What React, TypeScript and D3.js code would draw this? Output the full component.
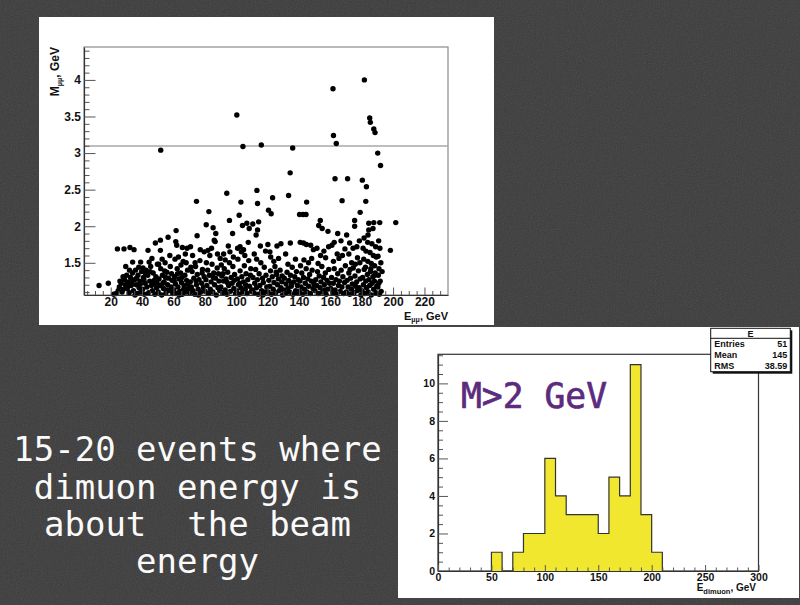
import React, { useEffect, useRef } from 'react';
import * as d3 from 'd3';

// dimuon events: [E_mumu (GeV), M_mumu (GeV)]
const events: [number, number][] = [
  [12.6, 1.19], [18.5, 1.22],
  [24.3, 1.69], [28.5, 1.69], [29.6, 1.45], [23.5, 1.08], [24.8, 1.12], [25.5, 1.17], [26.7, 1.22], [27.3, 1.1],
  [28.0, 1.14], [28.8, 1.27], [29.4, 1.2], [25.9, 1.25], [21.9, 1.07], [27.9, 1.31],
  [32.3, 1.71], [34.9, 1.68], [34.0, 1.51], [39.1, 1.51], [30.6, 1.15], [31.2, 1.24], [31.8, 1.09], [32.6, 1.3],
  [33.1, 1.19], [33.9, 1.36], [34.5, 1.12], [35.2, 1.27], [35.8, 1.4], [36.3, 1.2], [36.9, 1.08], [37.4, 1.33],
  [38.1, 1.16], [38.6, 1.25], [39.2, 1.1], [39.7, 1.38], [30.2, 1.33], [32.0, 1.4], [35.5, 1.06], [37.9, 1.44],
  [33.5, 1.23], [36.5, 1.29], [31.0, 1.18], [38.9, 1.21],
  [43.8, 1.67], [48.5, 1.77], [44.5, 1.51], [40.4, 1.14], [40.9, 1.3], [41.5, 1.07], [42.0, 1.22], [42.6, 1.4],
  [43.1, 1.17], [43.6, 1.33], [44.2, 1.09], [44.9, 1.25], [45.5, 1.45], [46.0, 1.19], [46.6, 1.12], [47.1, 1.36],
  [47.7, 1.26], [48.2, 1.07], [48.8, 1.31], [49.3, 1.16], [49.8, 1.48], [45.2, 1.38], [41.2, 1.27], [47.4, 1.21],
  [42.3, 1.35], [46.3, 1.56], [49.5, 1.23], [40.6, 1.43],
  [51.7, 1.67], [51.7, 1.81], [56.6, 1.85], [51.9, 3.04], [50.3, 1.1], [50.8, 1.28], [51.4, 1.19], [51.9, 1.42],
  [52.5, 1.06], [53.0, 1.33], [53.6, 1.15], [54.1, 1.24], [54.7, 1.5], [55.2, 1.09], [55.8, 1.37], [56.3, 1.2],
  [56.9, 1.29], [57.4, 1.12], [58.0, 1.45], [58.5, 1.17], [59.1, 1.26], [59.6, 1.08], [52.8, 1.55], [54.4, 1.39],
  [57.7, 1.6], [55.0, 1.3], [58.8, 1.35], [50.6, 1.48], [53.3, 1.22], [56.0, 1.13],
  [61.7, 1.94], [61.5, 1.79], [62.1, 1.74], [65.7, 1.71], [68.7, 1.7], [60.2, 1.13], [60.7, 1.31], [61.3, 1.21],
  [61.8, 1.08], [62.4, 1.42], [62.9, 1.17], [63.5, 1.28], [64.0, 1.11], [64.6, 1.36], [65.1, 1.23], [65.7, 1.07],
  [66.2, 1.52], [66.8, 1.19], [67.3, 1.33], [67.9, 1.1], [68.4, 1.26], [69.0, 1.4], [69.5, 1.15], [63.2, 1.58],
  [64.8, 1.47], [67.6, 1.62], [60.5, 1.25], [62.6, 1.35], [65.4, 1.3], [68.1, 1.5], [69.3, 1.21], [63.8, 1.06],
  [66.5, 1.14], [61.0, 1.55],
  [70.9, 1.72], [74.7, 2.34], [75.1, 1.87], [79.6, 1.65], [70.3, 1.09], [70.8, 1.24], [71.4, 1.17], [71.9, 1.38],
  [72.5, 1.12], [73.0, 1.29], [73.6, 1.07], [74.1, 1.45], [74.7, 1.2], [75.2, 1.34], [75.8, 1.14], [76.3, 1.27],
  [76.9, 1.53], [77.4, 1.1], [78.0, 1.22], [78.5, 1.41], [79.1, 1.16], [79.6, 1.31], [72.2, 1.6], [73.8, 1.5],
  [77.1, 1.68], [71.1, 1.44], [76.0, 1.06], [78.3, 1.36], [74.4, 1.25],
  [82.0, 1.67], [82.6, 2.2], [80.9, 2.02], [85.3, 1.98], [87.0, 1.9], [86.6, 1.79], [86.0, 1.81], [89.8, 1.56],
  [80.2, 1.11], [80.7, 1.27], [81.3, 1.19], [81.8, 1.4], [82.4, 1.08], [82.9, 1.33], [83.5, 1.14], [84.0, 1.24],
  [84.6, 1.48], [85.1, 1.1], [85.7, 1.36], [86.2, 1.2], [86.8, 1.29], [87.3, 1.06], [87.9, 1.43], [88.4, 1.16],
  [89.0, 1.25], [89.5, 1.12], [83.2, 1.6], [84.3, 1.7], [88.1, 1.62], [81.0, 1.5], [85.4, 1.3], [88.7, 1.35],
  [94.0, 2.45], [95.7, 2.08], [97.7, 1.9], [95.0, 1.73], [93.0, 1.54], [90.2, 1.17], [90.8, 1.32], [91.3, 1.09],
  [91.9, 1.25], [92.4, 1.42], [93.0, 1.13], [93.5, 1.28], [94.1, 1.07], [94.6, 1.37], [95.2, 1.19], [95.7, 1.5],
  [96.3, 1.11], [96.8, 1.3], [97.4, 1.22], [97.9, 1.45], [98.5, 1.15], [99.0, 1.34], [99.6, 1.08], [92.0, 1.62],
  [96.0, 1.65], [98.2, 1.58], [90.5, 1.47], [94.3, 1.23], [98.8, 1.26], [91.6, 1.35],
  [100.4, 3.52], [104.3, 3.09], [101.9, 2.15], [103.0, 2.33], [104.0, 2.01], [106.8, 2.04], [108.3, 1.97],
  [100.9, 1.7], [102.5, 1.72], [104.7, 1.68], [103.3, 1.65], [100.3, 1.12], [100.8, 1.28], [101.4, 1.2],
  [101.9, 1.07], [102.5, 1.39], [103.0, 1.16], [103.6, 1.31], [104.1, 1.1], [104.7, 1.24], [105.2, 1.46],
  [105.8, 1.14], [106.3, 1.35], [106.9, 1.08], [107.4, 1.27], [108.0, 1.53], [108.5, 1.18], [109.1, 1.33],
  [109.6, 1.11], [101.1, 1.55], [105.5, 1.6], [107.7, 1.78], [109.3, 1.42], [102.2, 1.22], [106.0, 1.2],
  [116.0, 3.11], [113.2, 2.49], [113.6, 2.31], [110.6, 2.03], [114.3, 2.06], [113.6, 1.95], [112.7, 1.88],
  [110.2, 1.13], [110.7, 1.3], [111.3, 1.09], [111.8, 1.22], [112.4, 1.41], [112.9, 1.16], [113.5, 1.27],
  [114.0, 1.07], [114.6, 1.35], [115.1, 1.19], [115.7, 1.5], [116.2, 1.12], [116.8, 1.29], [117.3, 1.23],
  [117.9, 1.44], [118.4, 1.1], [119.0, 1.33], [119.5, 1.17], [111.5, 1.62], [115.4, 1.73], [118.7, 1.66],
  [117.0, 1.06], [113.0, 1.55],
  [123.2, 2.39], [120.6, 2.22], [122.3, 2.17], [120.2, 1.75], [121.5, 1.65], [126.0, 1.73], [128.5, 1.76],
  [124.0, 1.52], [120.3, 1.1], [120.8, 1.26], [121.4, 1.18], [121.9, 1.39], [122.5, 1.07], [123.0, 1.31],
  [123.6, 1.14], [124.1, 1.23], [124.7, 1.45], [125.2, 1.09], [125.8, 1.34], [126.3, 1.2], [126.9, 1.28],
  [127.4, 1.12], [128.0, 1.4], [128.5, 1.16], [129.1, 1.24], [129.6, 1.06], [122.0, 1.58], [127.0, 1.56],
  [125.5, 1.37], [129.3, 1.32],
  [134.4, 2.73], [136.0, 3.07], [133.4, 2.42], [134.5, 1.77], [131.5, 1.62], [137.8, 1.55], [130.2, 1.13],
  [130.7, 1.29], [131.3, 1.08], [131.8, 1.21], [132.4, 1.37], [132.9, 1.15], [133.5, 1.26], [134.0, 1.1],
  [134.6, 1.33], [135.1, 1.18], [135.7, 1.44], [136.2, 1.07], [136.8, 1.24], [137.3, 1.31], [137.9, 1.12],
  [138.4, 1.38], [139.0, 1.19], [139.5, 1.27], [133.0, 1.48], [138.7, 1.09], [135.4, 1.22],
  [144.9, 2.33], [140.4, 2.16], [142.6, 2.16], [144.5, 2.16], [140.8, 1.78], [142.9, 1.77], [144.7, 1.75],
  [147.5, 1.74], [149.2, 1.68], [146.1, 1.5], [143.2, 1.54], [140.2, 1.11], [140.7, 1.25], [141.3, 1.17],
  [141.8, 1.36], [142.4, 1.07], [142.9, 1.3], [143.5, 1.14], [144.0, 1.22], [144.6, 1.42], [145.1, 1.1],
  [145.7, 1.28], [146.2, 1.18], [146.8, 1.34], [147.3, 1.08], [147.9, 1.25], [148.4, 1.4], [149.0, 1.15],
  [149.5, 1.21], [141.0, 1.46], [148.1, 1.56],
  [153.6, 2.08], [152.6, 2.01], [154.8, 1.97], [158.5, 1.93], [151.5, 1.7], [155.9, 1.66], [158.9, 1.72],
  [152.2, 1.49], [150.2, 1.12], [150.7, 1.27], [151.3, 1.19], [151.8, 1.38], [152.4, 1.08], [152.9, 1.32],
  [153.5, 1.16], [154.0, 1.24], [154.6, 1.45], [155.1, 1.1], [155.7, 1.3], [156.2, 1.2], [156.8, 1.36],
  [157.3, 1.07], [157.9, 1.26], [158.4, 1.14], [159.0, 1.41], [159.5, 1.22], [157.0, 1.57], [153.8, 1.6],
  [156.5, 1.13],
  [161.7, 3.88], [162.0, 3.24], [163.8, 3.13], [163.0, 2.65], [167.5, 2.35], [164.7, 1.9], [161.0, 1.74],
  [162.5, 1.78], [166.8, 1.8], [169.3, 1.69], [165.5, 1.56], [160.3, 1.15], [160.8, 1.3], [161.4, 1.09],
  [161.9, 1.22], [162.5, 1.42], [163.0, 1.13], [163.6, 1.27], [164.1, 1.07], [164.7, 1.35], [165.2, 1.19],
  [165.8, 1.25], [166.3, 1.11], [166.9, 1.4], [167.4, 1.17], [168.0, 1.31], [168.5, 1.08], [169.1, 1.23],
  [169.6, 1.46], [162.0, 1.52], [167.7, 1.6], [164.4, 1.62],
  [171.0, 2.65], [175.5, 2.08], [175.5, 2.0], [179.0, 2.19], [170.4, 1.88], [172.3, 1.77], [174.5, 1.7],
  [176.9, 1.72], [178.5, 1.8], [171.8, 1.62], [177.3, 1.57], [173.6, 1.5], [170.2, 1.1], [170.7, 1.26],
  [171.3, 1.17], [171.8, 1.36], [172.4, 1.07], [172.9, 1.29], [173.5, 1.14], [174.0, 1.21], [174.6, 1.43],
  [175.1, 1.09], [175.7, 1.32], [176.2, 1.18], [176.8, 1.24], [177.3, 1.12], [177.9, 1.39], [178.4, 1.16],
  [179.0, 1.28], [179.5, 1.06], [175.9, 1.48], [172.6, 1.41], [178.8, 1.5],
  [181.7, 4.0], [185.1, 3.48], [185.5, 3.42], [187.7, 3.33], [188.5, 3.28], [180.4, 2.63], [183.0, 2.54],
  [182.6, 2.34], [184.5, 2.04], [187.7, 2.05], [187.2, 1.97], [184.5, 1.95], [184.0, 1.88], [181.5, 1.84],
  [183.8, 1.78], [186.5, 1.76], [188.9, 1.72], [180.9, 1.7], [182.7, 1.66], [185.3, 1.64], [187.4, 1.6],
  [189.3, 1.58], [181.3, 1.55], [183.9, 1.52], [186.1, 1.49], [188.2, 1.46], [180.2, 1.12], [180.6, 1.3],
  [181.1, 1.2], [181.6, 1.41], [182.1, 1.08], [182.6, 1.25], [183.1, 1.16], [183.6, 1.34], [184.1, 1.1],
  [184.6, 1.27], [185.1, 1.19], [185.6, 1.38], [186.1, 1.06], [186.6, 1.22], [187.1, 1.31], [187.6, 1.14],
  [188.1, 1.25], [188.6, 1.36], [189.1, 1.09], [189.6, 1.18], [182.4, 1.44], [185.8, 1.42], [188.4, 1.33],
  [190.2, 3.0], [192.0, 2.83], [191.5, 2.05], [198.3, 1.67], [190.8, 1.8], [191.6, 1.7], [190.4, 1.59],
  [192.2, 1.5], [191.0, 1.42], [190.6, 1.33], [191.8, 1.25], [190.3, 1.17], [192.4, 1.11], [191.2, 1.07],
  [193.0, 1.38], [190.9, 1.22],
  [201.7, 2.05],
];

const jpsiMass = 3.097;
const scatterXTicks = [20, 40, 60, 80, 100, 120, 140, 160, 180, 200, 220];
const scatterYTicks = [1.5, 2, 2.5, 3, 3.5, 4];

// E_dimuon histogram for M > 2 GeV, 10 GeV bins
const binLow = [50, 60, 70, 80, 90, 100, 110, 120, 130, 140, 150, 160, 170, 180, 190, 200];
const binCounts = [1, 0, 1, 2, 2, 6, 4, 3, 3, 3, 2, 5, 4, 11, 3, 1];
const histXTicks = [0, 50, 100, 150, 200, 250, 300];
const histYTicks = [0, 2, 4, 6, 8, 10];
const statsRows = [['Entries', '51'], ['Mean', '145'], ['RMS', '38.59']];

const caption = ['15-20 events where', 'dimuon energy is', 'about  the beam', 'energy'];

const W = 800;
const H = 605;
const ROOT_FONT = '"Liberation Sans", Arial, Helvetica, sans-serif';
const MONO = '"DejaVu Sans Mono", monospace';

export default function App() {
  const ref = useRef<SVGSVGElement>(null);

  useEffect(() => {
    const svg = d3.select(ref.current);
    svg.selectAll('*').remove();

    // slide background with a bit of grain
    const defs = svg.append('defs');
    const f = defs.append('filter').attr('id', 'grain').attr('x', 0).attr('y', 0).attr('width', '100%').attr('height', '100%');
    f.append('feTurbulence').attr('type', 'fractalNoise').attr('baseFrequency', 0.85).attr('numOctaves', 2).attr('seed', 3);
    f.append('feColorMatrix').attr('type', 'saturate').attr('values', 0);
    svg.append('rect').attr('width', W).attr('height', H).attr('fill', '#3b3b3b');
    svg.append('rect').attr('width', W).attr('height', H).attr('filter', 'url(#grain)').attr('opacity', 0.14);

    // ---------- scatter panel ----------
    svg.append('rect').attr('x', 39).attr('y', 17).attr('width', 455).attr('height', 308).attr('fill', '#fff');

    const sx = d3.scaleLinear().domain([3, 235]).range([84, 448]);
    const sy = d3.scaleLinear().domain([1.06, 4.45]).range([295, 47]);

    svg.append('rect')
      .attr('x', sx(3)).attr('y', sy(4.45))
      .attr('width', sx(235) - sx(3)).attr('height', sy(1.06) - sy(4.45))
      .attr('fill', 'none').attr('stroke', '#8a8a8a').attr('stroke-width', 1.2);

    svg.append('line')
      .attr('x1', sx(3)).attr('x2', sx(235))
      .attr('y1', sy(jpsiMass)).attr('y2', sy(jpsiMass))
      .attr('stroke', '#a8a8a8').attr('stroke-width', 1.6);

    svg.append('g').selectAll('circle').data(events).join('circle')
      .attr('cx', (d) => sx(d[0]))
      .attr('cy', (d) => sy(d[1]))
      .attr('r', 2.7)
      .attr('fill', '#000');

    const styleAxis = (g, size) => {
      g.select('.domain').attr('stroke', '#333').attr('stroke-width', 1.2);
      g.selectAll('.tick line').attr('stroke', '#555');
      g.selectAll('text')
        .attr('font-family', ROOT_FONT)
        .attr('font-weight', 'bold')
        .attr('font-size', size)
        .attr('fill', '#111');
    };

    const syMinor = d3.range(11, 45).map((v) => v / 10).filter((v) => Math.round(v * 10) % 5 !== 0);
    svg.append('g').attr('transform', `translate(${sx(3)},0)`)
      .call(d3.axisLeft(sy).tickValues(syMinor).tickSizeInner(-5.5).tickSizeOuter(0).tickFormat(() => ''))
      .call((g) => { g.select('.domain').remove(); g.selectAll('.tick line').attr('stroke', '#555'); });
    svg.append('g').attr('transform', `translate(${sx(3)},0)`)
      .call(d3.axisLeft(sy).tickValues(scatterYTicks).tickSizeInner(-11.5).tickSizeOuter(0).tickPadding(3).tickFormat((d) => String(d)))
      .call((g) => styleAxis(g, '12px'));

    const sxMinor = d3.range(1, 47).map((v) => v * 5).filter((v) => v % 20 !== 0);
    svg.append('g').attr('transform', `translate(0,${sy(1.06)})`)
      .call(d3.axisBottom(sx).tickValues(sxMinor).tickSizeInner(-4).tickSizeOuter(0).tickFormat(() => ''))
      .call((g) => { g.select('.domain').remove(); g.selectAll('.tick line').attr('stroke', '#555'); });
    svg.append('g').attr('transform', `translate(0,${sy(1.06)})`)
      .call(d3.axisBottom(sx).tickValues(scatterXTicks).tickSizeInner(-7.5).tickSizeOuter(0).tickPadding(2.5))
      .call((g) => styleAxis(g, '12px'));

    // axis titles
    const yTitle = svg.append('text')
      .attr('transform', `translate(58.5,${sy(4.45)}) rotate(-90)`)
      .attr('text-anchor', 'end')
      .attr('font-family', ROOT_FONT).attr('font-weight', 'bold').attr('font-size', '12px').attr('fill', '#111');
    yTitle.append('tspan').text('M');
    yTitle.append('tspan').attr('font-size', '7px').attr('dy', 3).text('μμ');
    yTitle.append('tspan').attr('dy', -3).text(', GeV');

    const xTitle = svg.append('text')
      .attr('x', sx(235)).attr('y', 319.5)
      .attr('text-anchor', 'end')
      .attr('font-family', ROOT_FONT).attr('font-weight', 'bold').attr('font-size', '11px').attr('fill', '#111');
    xTitle.append('tspan').text('E');
    xTitle.append('tspan').attr('font-size', '7px').attr('dy', 2.5).text('μμ');
    xTitle.append('tspan').attr('dy', -2.5).text(', GeV');

    // ---------- histogram panel ----------
    svg.append('rect').attr('x', 398).attr('y', 327).attr('width', 401).attr('height', 271).attr('fill', '#fff');

    const hx = d3.scaleLinear().domain([0, 300]).range([438, 758.5]);
    const hy = d3.scaleLinear().domain([0, 11.55]).range([571, 354.3]);

    svg.append('rect')
      .attr('x', hx(0)).attr('y', hy(11.55))
      .attr('width', hx(300) - hx(0)).attr('height', hy(0) - hy(11.55))
      .attr('fill', 'none').attr('stroke', '#333').attr('stroke-width', 1.2);

    const step: [number, number][] = [[binLow[0], 0]];
    binCounts.forEach((c, i) => {
      step.push([binLow[i], c], [binLow[i] + 10, c]);
    });
    step.push([binLow[binLow.length - 1] + 10, 0]);

    svg.append('path')
      .datum(step)
      .attr('d', d3.area<[number, number]>().x((d) => hx(d[0])).y0(hy(0)).y1((d) => hy(d[1])))
      .attr('fill', '#f1e72f');
    svg.append('path')
      .datum(step)
      .attr('d', d3.line<[number, number]>().x((d) => hx(d[0])).y((d) => hy(d[1])))
      .attr('fill', 'none').attr('stroke', '#333').attr('stroke-width', 1.2);

    const hyMinor = d3.range(1, 24).map((v) => v / 2).filter((v) => v % 2 !== 0);
    svg.append('g').attr('transform', `translate(${hx(0)},0)`)
      .call(d3.axisLeft(hy).tickValues(hyMinor).tickSizeInner(-5).tickSizeOuter(0).tickFormat(() => ''))
      .call((g) => { g.select('.domain').remove(); g.selectAll('.tick line').attr('stroke', '#555'); });
    svg.append('g').attr('transform', `translate(${hx(0)},0)`)
      .call(d3.axisLeft(hy).tickValues(histYTicks).tickSizeInner(-10).tickSizeOuter(0).tickPadding(3))
      .call((g) => styleAxis(g, '10.5px'));

    const hxMinor = d3.range(1, 30).map((v) => v * 10).filter((v) => v % 50 !== 0);
    svg.append('g').attr('transform', `translate(0,${hy(0)})`)
      .call(d3.axisBottom(hx).tickValues(hxMinor).tickSizeInner(-3.5).tickSizeOuter(0).tickFormat(() => ''))
      .call((g) => { g.select('.domain').remove(); g.selectAll('.tick line').attr('stroke', '#555'); });
    svg.append('g').attr('transform', `translate(0,${hy(0)})`)
      .call(d3.axisBottom(hx).tickValues(histXTicks).tickSizeInner(-6).tickSizeOuter(0).tickPadding(3))
      .call((g) => styleAxis(g, '10.5px'));

    const hTitle = svg.append('text')
      .attr('x', 756).attr('y', 591)
      .attr('text-anchor', 'end')
      .attr('font-family', ROOT_FONT).attr('font-weight', 'bold').attr('font-size', '10px').attr('fill', '#111');
    hTitle.append('tspan').text('E');
    hTitle.append('tspan').attr('font-size', '7.5px').attr('dy', 2.5).text('dimuon');
    hTitle.append('tspan').attr('dy', -2.5).text(', GeV');

    // stats box
    const bx = 710.7;
    const by = 328.3;
    const bw = 79.6;
    const bh = 43.4;
    svg.append('rect').attr('x', bx + 2).attr('y', by + 2).attr('width', bw).attr('height', bh).attr('fill', '#111');
    svg.append('rect').attr('x', bx).attr('y', by).attr('width', bw).attr('height', bh)
      .attr('fill', '#fff').attr('stroke', '#111').attr('stroke-width', 1);
    svg.append('line').attr('x1', bx).attr('x2', bx + bw).attr('y1', by + 10).attr('y2', by + 10)
      .attr('stroke', '#111').attr('stroke-width', 1);
    const statsText = (x, y, anchor, t) => svg.append('text')
      .attr('x', x).attr('y', y).attr('text-anchor', anchor)
      .attr('font-family', ROOT_FONT).attr('font-weight', 'bold').attr('font-size', '9px').attr('fill', '#111')
      .text(t);
    statsText(bx + bw / 2, by + 8.3, 'middle', 'E');
    statsRows.forEach(([k, v], i) => {
      const y = by + 18.8 + i * 11;
      statsText(bx + 3.5, y, 'start', k);
      statsText(bx + bw - 3, y, 'end', v);
    });

    // annotation inside the histogram
    svg.append('text')
      .attr('x', 461).attr('y', 408)
      .attr('font-family', MONO).attr('font-size', '36px').attr('fill', '#5c2b7d')
      .attr('stroke', '#5c2b7d').attr('stroke-width', 0.7)
      .attr('textLength', 146).attr('lengthAdjust', 'spacingAndGlyphs')
      .text('M>2 GeV');

    // ---------- caption ----------
    const baselines = [461, 498.5, 535.5, 572.5];
    caption.forEach((line, i) => {
      svg.append('text')
        .attr('x', 197.5).attr('y', baselines[i])
        .attr('text-anchor', 'middle')
        .attr('font-family', MONO).attr('font-size', '34px').attr('fill', '#fafafa')
        .style('white-space', 'pre')
        .text(line);
    });
  }, []);

  return (
    <svg
      ref={ref}
      width={W}
      height={H}
      style={{ position: 'absolute', left: 0, top: 0, display: 'block' }}
    />
  );
}
